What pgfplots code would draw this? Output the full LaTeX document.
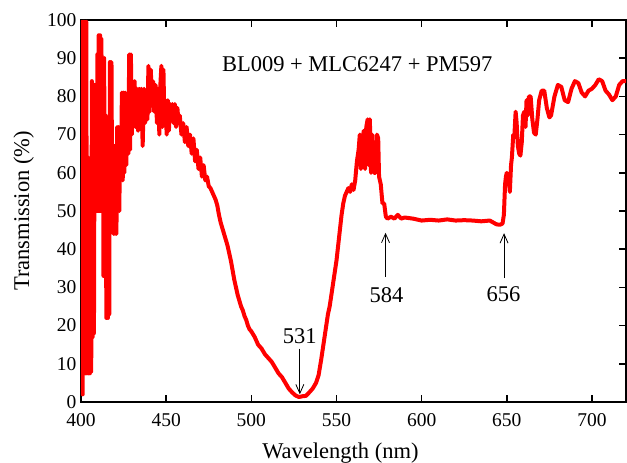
\documentclass[border=0pt]{standalone}
\usepackage{fontspec}
\setmainfont{Liberation Serif}
\usepackage{pgfplots}
\pgfplotsset{compat=1.18}
\usetikzlibrary{arrows.meta}
\begin{document}
\begin{tikzpicture}
\begin{axis}[
  scale only axis,
  width=545pt, height=382pt,
  xmin=400, xmax=720, ymin=0, ymax=100,
  xtick={400,450,...,700},
  ytick={0,10,...,100},
  /pgf/number format/assume math mode=true,
  ticklabel style={font=\rmfamily\fontsize{19.5}{22}\selectfont},
  xticklabel style={yshift=-8pt},
  yticklabel style={xshift=-1pt},
  major tick length=7pt,
  tick style={line width=1.5pt, black},
  axis line style={line width=1.5pt},
  xlabel={Wavelength (nm)},
  ylabel={Transmission (\%)},
  label style={font=\rmfamily\fontsize{22.5}{26}\selectfont},
  xlabel style={at={(axis description cs:0.476,-0.1466)}, anchor=base},
  ylabel style={at={(axis description cs:-0.0954,0.5)}, anchor=base},
]
\coordinate (sw) at (rel axis cs:0,0);
\coordinate (ne) at (rel axis cs:1,1);
\addplot[red, line width=4pt, line join=round, mark=none] coordinates {
(400.2,55) (400.6,99.5) (401.0,2) (401.4,99.5) (401.8,7.5) (402.3,99.5) (402.7,7.5) (403.1,99.5)
(403.5,7.5) (403.9,64) (404.3,7.5) (404.8,63) (405.2,7.5) (405.6,63) (406.0,8) (406.4,84)
(406.8,17) (407.2,83) (407.6,18) (408.0,83) (408.4,50) (408.9,73) (409.3,50) (409.6,91)
(410.0,50) (410.4,96) (410.8,50) (411.2,96) (411.6,50) (412.0,95) (412.4,50) (412.8,90)
(413.2,33) (413.6,90) (414.0,33) (414.4,75) (414.9,22) (415.3,74) (415.8,22) (416.2,60)
(416.6,23) (417.0,89) (417.4,50) (417.9,89) (418.3,50) (418.7,67) (419.1,44) (419.6,67)
(420.0,44) (420.4,65) (420.8,44) (421.2,72) (421.7,50) (422.1,72) (422.5,50) (423.0,72)
(423.5,58) (424.0,81) (424.5,58) (425.0,81) (425.5,60) (426.0,81) (426.6,62) (427.2,80)
(427.8,65) (428.3,91) (428.8,66) (429.3,91) (429.8,70) (430.3,84) (430.8,72) (431.5,84)
(432.0,72) (432.8,82) (433.5,71) (434.2,82) (434.8,74) (435.5,82) (436.2,67) (437.0,82)
(437.6,73) (438.3,81) (439.0,74) (439.6,88) (440.3,76) (441.0,87) (441.6,78) (442.3,84)
(443.0,76) (443.8,83) (444.6,73) (445.3,82) (446.0,70) (446.6,83) (447.2,88) (447.8,72)
(448.4,87) (449.0,73) (449.6,79) (450.3,70) (451.0,79) (451.6,71) (452.3,78) (453.0,74)
(453.7,78) (454.4,73) (455.1,78) (455.8,72) (456.6,77) (457.3,73) (458.0,75) (459,70)
(460,73) (461,68) (462,72) (463,67) (464,70) (465,65) (466,69) (467,63) (468,66) (469,61)
(470,64) (471,59) (472,62) (473,58) (474,59) (475,56.5) (476,56) (477,55) (478,54) (479,53)
(480,51.5) (481,49) (482,47) (483,45.5) (484,44) (485,42.5) (486,41) (487,39) (488,37)
(489,34.5) (490,32) (491,30) (492,28) (493,26.5) (494,25) (495,24) (496,22.5) (497,21.5)
(498,20) (499,19) (500,18.5) (502,17) (504,15) (506,14) (508,12.5) (510,11.5) (512,10.5)
(514,9) (516,7.5) (518,6.5) (520,5) (522,3.5) (524,2.5) (526,1.7) (528,1.3) (530,1.5)
(532,1.6) (534,2.5) (536,3.5) (538,5) (539.5,7) (541,11) (542,14) (543,17) (544,20) (545,23)
(546,25) (547,28) (548,31) (549,34) (550,37) (551,41) (552,45) (553,49) (554,52) (555,54)
(556,55) (557,56) (558,55) (559,57) (560,55.5) (561,58) (562,63) (563,66) (563.7,70)
(564.3,61) (565,67) (566,71) (566.8,61) (567.5,72) (568.3,74) (569,62) (569.6,74) (570.3,60)
(571,70) (572,60) (573,60) (573.8,70) (574.5,69) (575,59) (576,57) (577,52) (578,52)
(579,48.5) (580,48) (582,48.5) (584,48) (586,49) (588,48) (590,48.3) (595,48) (600,47.5)
(605,47.7) (610,47.5) (615,47.8) (620,47.5) (625,47.6) (630,47.5) (635,47.3) (640,47.5)
(642,47) (644,46.5) (646,46.4) (647.5,46.7) (648.3,49) (649,57) (649.5,59) (650.0,60)
(650.5,57) (651.2,58) (651.8,55) (652.5,62) (653,64) (653.8,70) (654.5,70) (655.2,76)
(655.8,73) (656.5,67) (657.3,65) (658,64.5) (658.8,68) (659.5,75) (660.3,76) (661,72)
(661.6,79) (662.3,75) (663,80) (664,80) (665,74) (666,70.5) (667,70) (668,74) (669,79)
(670.5,81.5) (672,81.5) (673.5,77) (675,74.5) (676,75) (678,80) (680,83) (682,82.5)
(684,79) (686,78.5) (688,82) (690,84) (692,83.5) (694,81) (696,80) (698,81.5) (700,82)
(702,83) (704,84.5) (706,84) (708,81.5) (710,80.5) (712,79) (714,80) (716,83) (718,84)
(720,84)
};
\draw[-{Straight Barb[length=9pt,width=8pt]}, line width=0.8pt] (axis cs:528.5,14) -- (axis cs:528.5,2);
\node[anchor=base, inner sep=0pt, font=\rmfamily\fontsize{22.5}{26}\selectfont] at (axis cs:528.5,15.4) {531};
\draw[-{Straight Barb[length=9pt,width=8pt]}, line width=0.8pt] (axis cs:578.8,32.8) -- (axis cs:578.8,44.3);
\node[anchor=base, inner sep=0pt, font=\rmfamily\fontsize{22.5}{26}\selectfont] at (axis cs:579.4,26) {584};
\draw[-{Straight Barb[length=9pt,width=8pt]}, line width=0.8pt] (axis cs:648.4,32.4) -- (axis cs:648.4,44.2);
\node[anchor=base, inner sep=0pt, font=\rmfamily\fontsize{22.5}{26}\selectfont] at (axis cs:648.1,26.3) {656};
\node[anchor=base west, inner sep=0pt, font=\rmfamily\fontsize{22.5}{26}\selectfont] at (axis cs:482.7,86.6) {BL009 + MLC6247 + PM597};
\end{axis}
\pgfresetboundingbox
\useasboundingbox ([shift={(-81pt,-61pt)}]sw) rectangle ([shift={(1pt,20pt)}]ne);
\end{tikzpicture}
\end{document}
